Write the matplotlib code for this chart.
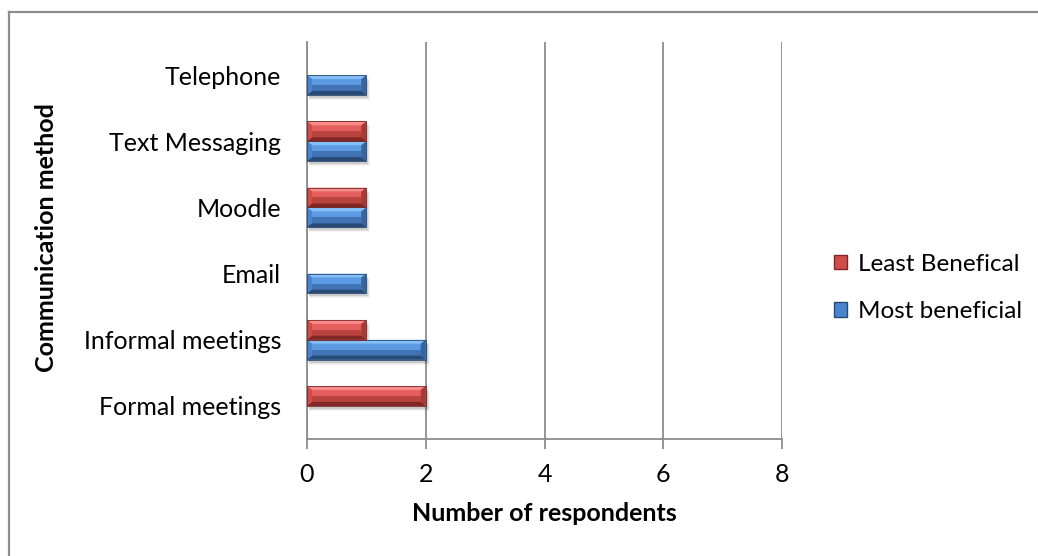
import matplotlib
matplotlib.use("Agg")
import matplotlib.pyplot as plt
from matplotlib.patches import Polygon, Rectangle, Patch
from matplotlib.lines import Line2D
import matplotlib.transforms as mtransforms
import numpy as np

categories = ["Formal meetings", "Informal meetings", "Email", "Moodle",
              "Text Messaging", "Telephone"]
most_beneficial = [0, 2, 1, 1, 1, 1]
least_beneficial = [2, 1, 0, 1, 1, 0]
series_names = ["Most beneficial", "Least Benefical"]
x_ticks = [0, 2, 4, 6, 8]

plt.rcParams['font.family'] = ['Lato', 'DejaVu Sans']
FS = 18

W, H = 1038, 556
fig = plt.figure(figsize=(W / 100, H / 100), dpi=100)
ax = fig.add_axes([307 / W, 1 - 439 / H, (782 - 307) / W, (439 - 42) / H])

pal = {
    "blue": dict(mid="#4A84CE", light="#85BFF7", upper="#5C9BE4", lower="#4274B5",
                 dark="#284A74", side="#3764A0", edge="#2A4A72"),
    "red": dict(mid="#D04C49", light="#F88C8A", upper="#E45E5B", lower="#B8433F",
                dark="#802725", side="#A63A37", edge="#7A2A28"),
}

h = 0.3
y = np.arange(len(categories))
b_blue = ax.barh(y - h / 2, most_beneficial, height=h, color=pal["blue"]["mid"],
                 zorder=3, label=series_names[0], linewidth=0)
b_red = ax.barh(y + h / 2, least_beneficial, height=h, color=pal["red"]["mid"],
                zorder=3, label=series_names[1], linewidth=0)

px_x = 8 / (782 - 307)
px_y = 6 / (439 - 42)
shadow_tr = mtransforms.offset_copy(ax.transData, fig=fig, x=2, y=-3, units='dots')

def bevel(rect, c):
    x0, y0 = rect.get_x(), rect.get_y()
    w, hh = rect.get_width(), rect.get_height()
    if w <= 0:
        return
    x1, y1 = x0 + w, y0 + hh
    dx, dy = 5 * px_x, 4 * px_y
    for k, a in enumerate([0.10, 0.07, 0.04]):
        ax.add_patch(Rectangle((x0, y0 - k * px_y), w + k * px_x, hh, transform=shadow_tr,
                               facecolor="#000000", alpha=a, linewidth=0, zorder=2))
    ym = (y0 + y1) / 2
    ax.add_patch(Rectangle((x0 + dx, ym), w - 2 * dx, y1 - dy - ym, facecolor=c["upper"],
                           linewidth=0, zorder=4))
    ax.add_patch(Rectangle((x0 + dx, y0 + dy), w - 2 * dx, ym - y0 - dy, facecolor=c["lower"],
                           linewidth=0, zorder=4))
    ax.add_patch(Polygon([(x0, y1), (x1, y1), (x1 - dx, y1 - dy), (x0 + dx, y1 - dy)],
                         closed=True, facecolor=c["light"], linewidth=0, zorder=4))
    ax.add_patch(Polygon([(x0, y0), (x1, y0), (x1 - dx, y0 + dy), (x0 + dx, y0 + dy)],
                         closed=True, facecolor=c["dark"], linewidth=0, zorder=4))
    ax.add_patch(Polygon([(x0, y0), (x0, y1), (x0 + dx, y1 - dy), (x0 + dx, y0 + dy)],
                         closed=True, facecolor=c["mid"], linewidth=0, zorder=4))
    ax.add_patch(Polygon([(x1, y0), (x1, y1), (x1 - dx, y1 - dy), (x1 - dx, y0 + dy)],
                         closed=True, facecolor=c["side"], linewidth=0, zorder=4))
    ax.add_patch(Rectangle((x0, y0), w, hh, facecolor="none", edgecolor=c["edge"],
                           linewidth=0.6, zorder=5))

for r in b_blue:
    bevel(r, pal["blue"])
for r in b_red:
    bevel(r, pal["red"])

ax.set_xlim(0, 8)
ax.set_ylim(-0.5, len(categories) - 0.5)
ax.set_xticks(x_ticks)
ax.set_xticklabels([str(t) for t in x_ticks])
ax.set_yticks(y)
ax.set_yticklabels(categories)
ax.xaxis.grid(True, color="#8C8C8C", linewidth=1.3, zorder=0)
ax.set_axisbelow(True)
for s in ["top", "right"]:
    ax.spines[s].set_visible(False)
for s in ["left", "bottom"]:
    ax.spines[s].set_color("#8C8C8C")
    ax.spines[s].set_linewidth(1.3)
ax.tick_params(axis='x', direction='out', length=7, width=1.3, color="#8C8C8C",
               labelsize=FS, pad=10, labelcolor="black")
ax.tick_params(axis='y', length=0, labelsize=FS, pad=18.5, labelcolor="black")

ax.set_xlabel("Number of respondents", fontsize=FS, fontweight="bold", labelpad=12)
ax.set_ylabel("Communication method", fontsize=FS, fontweight="bold")
ax.yaxis.set_label_coords(58 / W, 1 - 238 / H, transform=fig.transFigure)

handles = [Patch(facecolor=pal["red"]["mid"], edgecolor=pal["red"]["dark"], label=series_names[1]),
           Patch(facecolor=pal["blue"]["mid"], edgecolor=pal["blue"]["dark"], label=series_names[0])]
fig.legend(handles=handles, loc="center left", bbox_to_anchor=(812 / W, 1 - 288 / H),
           frameon=False, fontsize=17.5, handlelength=0.55, handleheight=0.55,
           handletextpad=0.45, labelspacing=1.1)

fig.add_artist(Line2D([9 / W, 1], [1 - 12 / H, 1 - 12 / H], transform=fig.transFigure,
                      color="#8C8C8C", linewidth=1.6))
fig.add_artist(Line2D([9 / W, 9 / W], [0, 1 - 12 / H], transform=fig.transFigure,
                      color="#8C8C8C", linewidth=1.6))

fig.savefig("out.png", dpi=100)
